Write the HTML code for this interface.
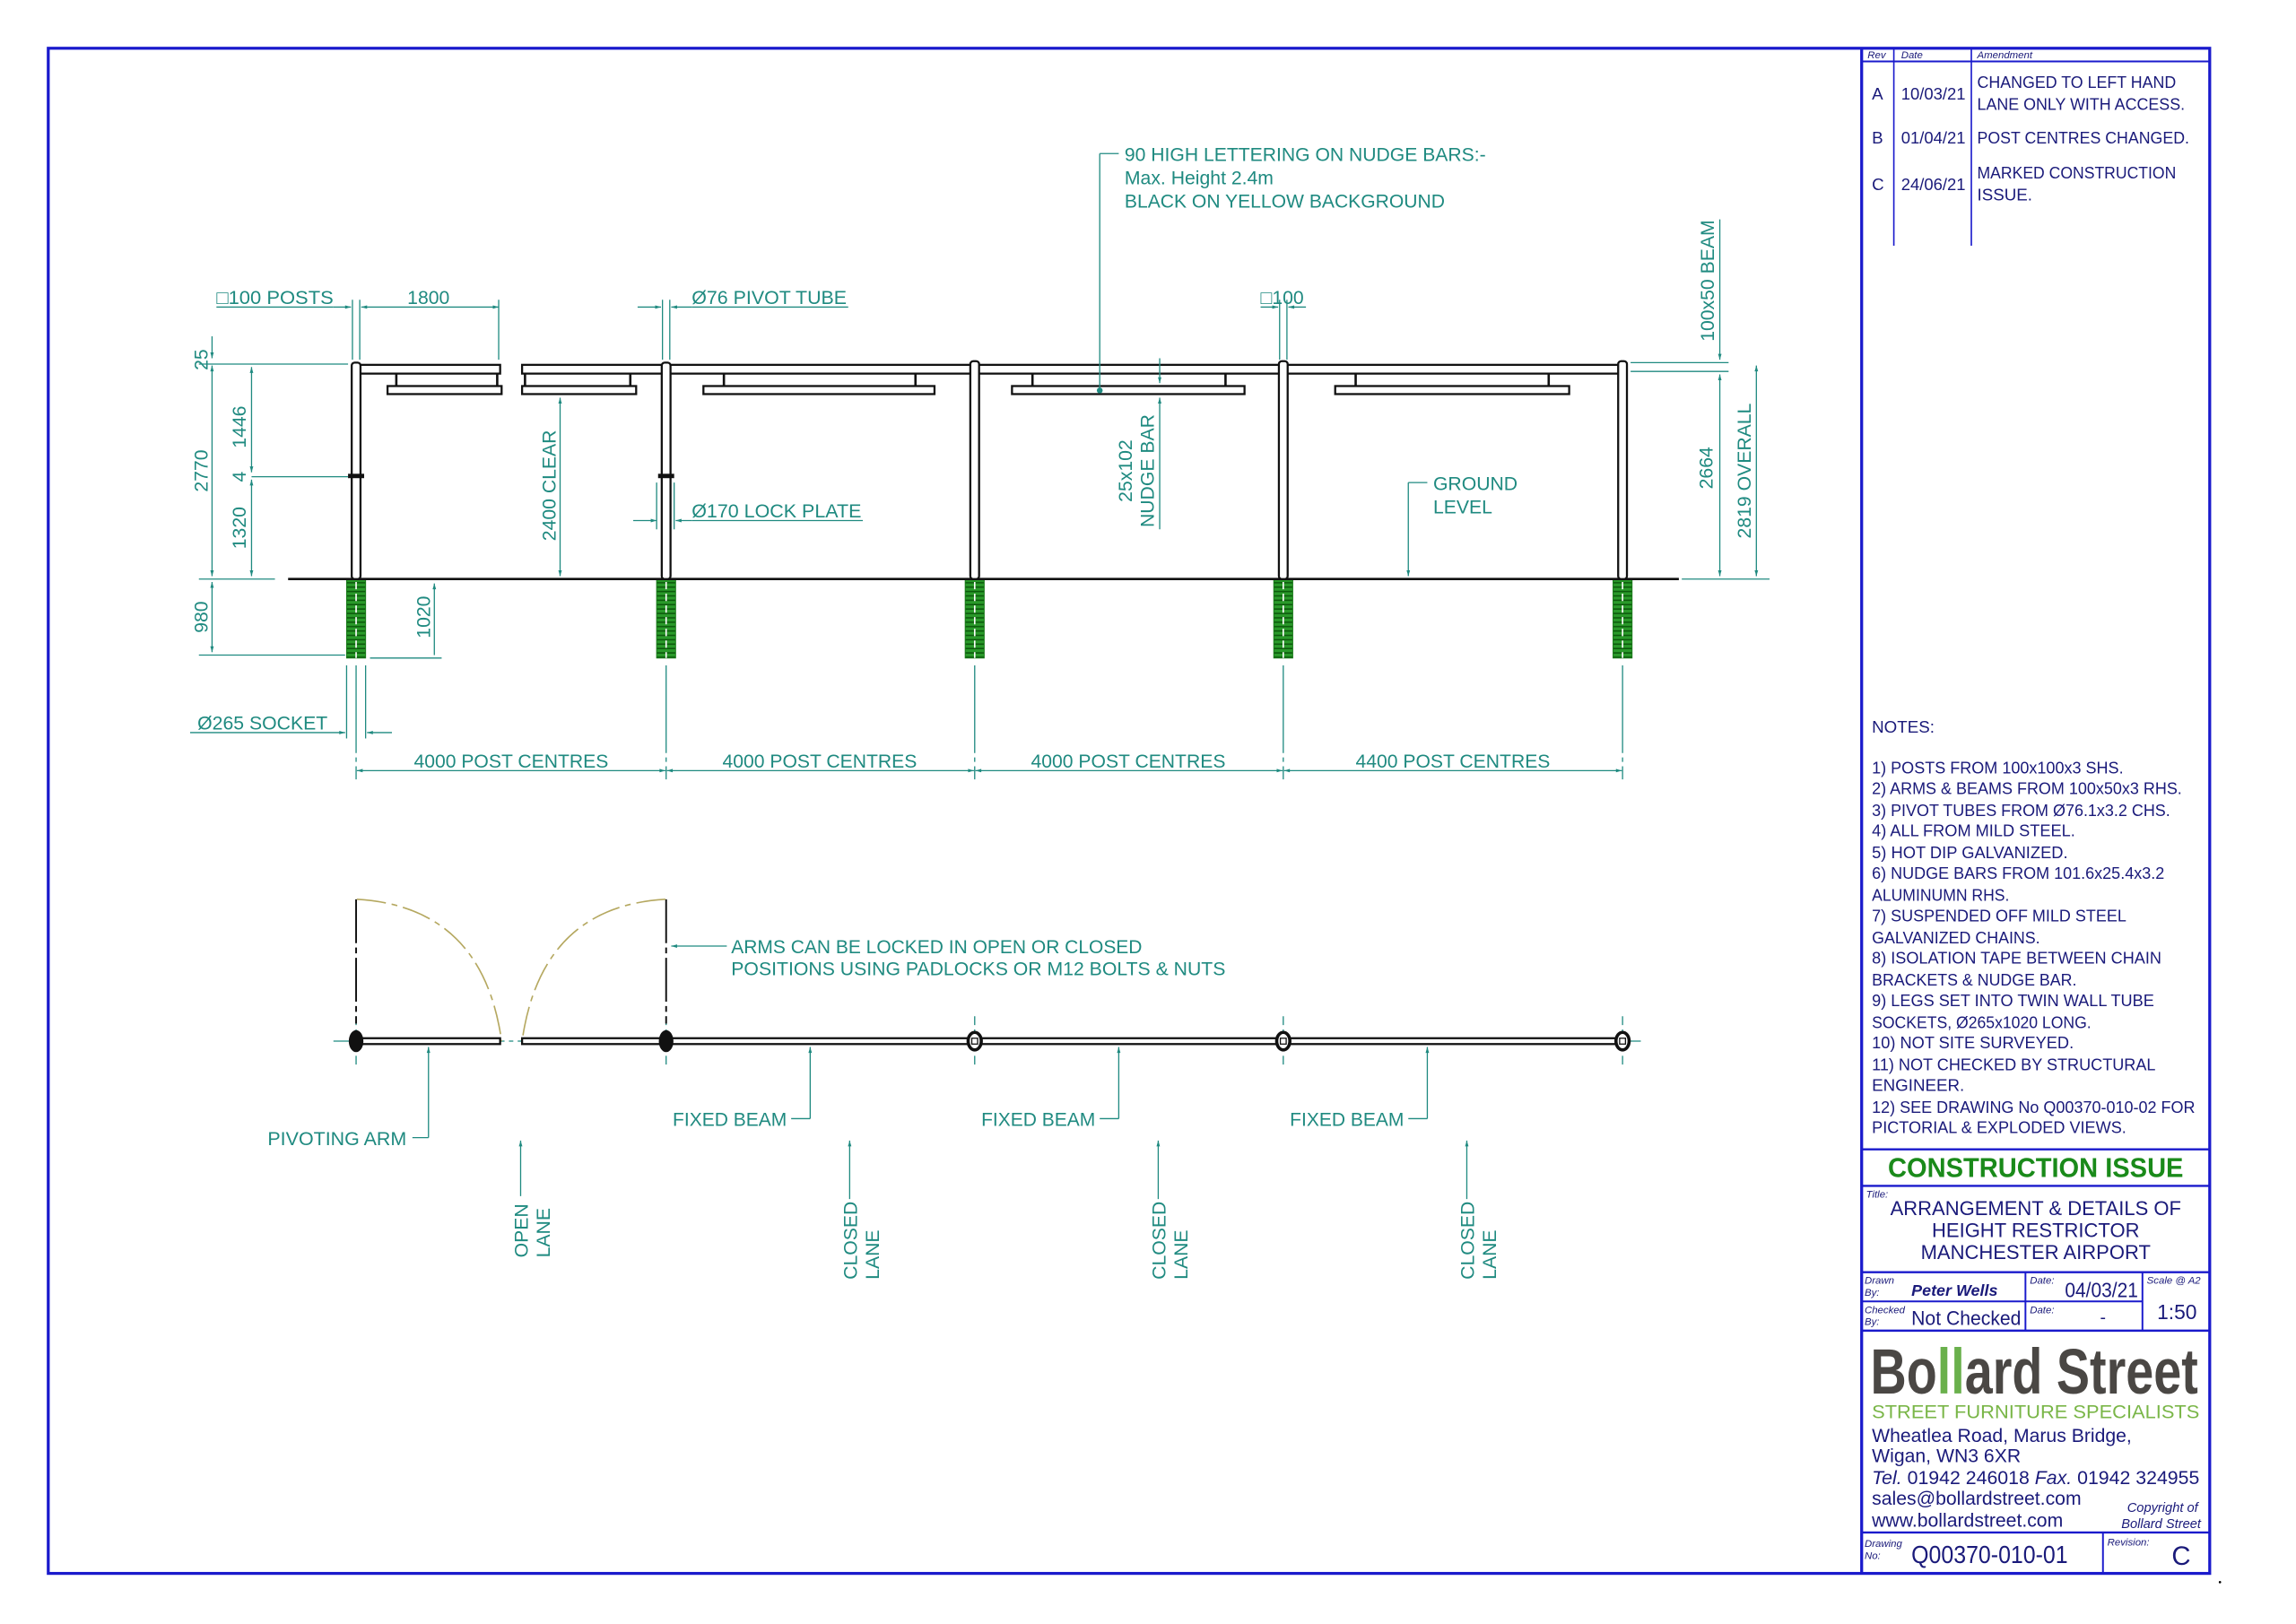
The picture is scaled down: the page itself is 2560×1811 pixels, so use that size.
<!DOCTYPE html>
<html><head><meta charset="utf-8"><style>
html,body{margin:0;padding:0;background:#fff}
svg{display:block}
.t{font-family:"Liberation Sans Narrow","Liberation Sans",sans-serif;fill:#1f8a80;font-size:13px}
.b{font-family:"Liberation Sans",sans-serif;fill:#1a1a7a}
.d{stroke:#1f8a80;stroke-width:0.8;fill:none}
.k{stroke:#111;stroke-width:1.4;fill:#fff}
.bl{stroke:#1a1acc;fill:none}
</style></head><body>
<svg width="2560" height="1811" viewBox="0 0 1570 1110.6" preserveAspectRatio="none" xmlns="http://www.w3.org/2000/svg">
<defs>
<marker id="a" viewBox="0 0 10 10" refX="10" refY="5" markerWidth="7" markerHeight="5" orient="auto-start-reverse"><path d="M0,2 L10,5 L0,8 z" fill="#1f8a80"/></marker>
<pattern id="g" width="4" height="3" patternUnits="userSpaceOnUse"><rect width="4" height="3" fill="#2a9a2a"/><rect y="2" width="4" height="1" fill="#0c5a0c"/></pattern>
</defs>
<rect x="0" y="0" width="1570" height="1111" fill="#fff"/>
<rect x="33" y="33" width="1478" height="1043" class="bl" stroke-width="2"/>
<line x1="1273" y1="33" x2="1273" y2="1076" class="bl" stroke-width="2"/>
<line x1="1273" y1="42" x2="1511" y2="42" class="bl" stroke-width="1.2"/>
<line x1="1295" y1="33" x2="1295" y2="168" class="bl" stroke-width="1"/>
<line x1="1348" y1="33" x2="1348" y2="168" class="bl" stroke-width="1"/>
<g class="b" font-size="7" font-style="italic"><text x="1277" y="40">Rev</text><text x="1300" y="40">Date</text><text x="1352" y="40">Amendment</text></g>
<g class="b" font-size="11.5"><text x="1280" y="68">A</text><text x="1300" y="68" textLength="44" lengthAdjust="spacingAndGlyphs">10/03/21</text><text x="1352" y="60" textLength="136" lengthAdjust="spacingAndGlyphs">CHANGED TO LEFT HAND</text><text x="1352" y="75" textLength="142" lengthAdjust="spacingAndGlyphs">LANE ONLY WITH ACCESS.</text>
<text x="1280" y="98">B</text><text x="1300" y="98" textLength="44" lengthAdjust="spacingAndGlyphs">01/04/21</text><text x="1352" y="98" textLength="145" lengthAdjust="spacingAndGlyphs">POST CENTRES CHANGED.</text>
<text x="1280" y="130">C</text><text x="1300" y="130" textLength="44" lengthAdjust="spacingAndGlyphs">24/06/21</text><text x="1352" y="122" textLength="136" lengthAdjust="spacingAndGlyphs">MARKED CONSTRUCTION</text><text x="1352" y="137">ISSUE.</text></g>
<g class="b" font-size="11.5"><text x="1280" y="501">NOTES:</text>
<text x="1280" y="529" textLength="172" lengthAdjust="spacingAndGlyphs">1)  POSTS FROM 100x100x3 SHS.</text>
<text x="1280" y="543" textLength="212" lengthAdjust="spacingAndGlyphs">2)  ARMS &amp; BEAMS FROM 100x50x3 RHS.</text>
<text x="1280" y="558" textLength="204" lengthAdjust="spacingAndGlyphs">3)  PIVOT TUBES FROM Ø76.1x3.2 CHS.</text>
<text x="1280" y="572" textLength="139" lengthAdjust="spacingAndGlyphs">4)  ALL FROM MILD STEEL.</text>
<text x="1280" y="587" textLength="134" lengthAdjust="spacingAndGlyphs">5)  HOT DIP GALVANIZED.</text>
<text x="1280" y="601" textLength="200" lengthAdjust="spacingAndGlyphs">6)  NUDGE BARS FROM 101.6x25.4x3.2</text>
<text x="1280" y="616" textLength="94" lengthAdjust="spacingAndGlyphs">ALUMINUMN RHS.</text>
<text x="1280" y="630" textLength="174" lengthAdjust="spacingAndGlyphs">7)  SUSPENDED OFF MILD STEEL</text>
<text x="1280" y="645" textLength="115" lengthAdjust="spacingAndGlyphs">GALVANIZED CHAINS.</text>
<text x="1280" y="659" textLength="198" lengthAdjust="spacingAndGlyphs">8)  ISOLATION TAPE BETWEEN CHAIN</text>
<text x="1280" y="674" textLength="140" lengthAdjust="spacingAndGlyphs">BRACKETS &amp; NUDGE BAR.</text>
<text x="1280" y="688" textLength="193" lengthAdjust="spacingAndGlyphs">9)  LEGS SET INTO TWIN WALL TUBE</text>
<text x="1280" y="703" textLength="150" lengthAdjust="spacingAndGlyphs">SOCKETS, Ø265x1020 LONG.</text>
<text x="1280" y="717" textLength="138" lengthAdjust="spacingAndGlyphs">10)  NOT SITE SURVEYED.</text>
<text x="1280" y="732" textLength="194" lengthAdjust="spacingAndGlyphs">11)  NOT CHECKED BY STRUCTURAL</text>
<text x="1280" y="746">ENGINEER.</text>
<text x="1280" y="761" textLength="221" lengthAdjust="spacingAndGlyphs">12)  SEE DRAWING No Q00370-010-02 FOR</text>
<text x="1280" y="775" textLength="174" lengthAdjust="spacingAndGlyphs">PICTORIAL  &amp; EXPLODED VIEWS.</text></g>
<line x1="1273" y1="786" x2="1511" y2="786" class="bl" stroke-width="1.5"/>
<text x="1392" y="805" text-anchor="middle" font-family="Liberation Sans,sans-serif" font-weight="bold" font-size="19" fill="#1a8a1a" textLength="202" lengthAdjust="spacingAndGlyphs">CONSTRUCTION ISSUE</text>
<line x1="1273" y1="811" x2="1511" y2="811" class="bl" stroke-width="1.5"/>
<text x="1276" y="819" class="b" font-size="7" font-style="italic">Title:</text>
<g class="b" font-size="13.5" text-anchor="middle"><text x="1392" y="831">ARRANGEMENT &amp; DETAILS OF</text><text x="1392" y="846">HEIGHT RESTRICTOR</text><text x="1392" y="861">MANCHESTER AIRPORT</text></g>
<line x1="1273" y1="870" x2="1511" y2="870" class="bl" stroke-width="1.5"/>
<line x1="1273" y1="890" x2="1465" y2="890" class="bl" stroke-width="1.2"/>
<line x1="1273" y1="910" x2="1511" y2="910" class="bl" stroke-width="1.5"/>
<line x1="1385" y1="870" x2="1385" y2="910" class="bl" stroke-width="1.2"/>
<line x1="1465" y1="870" x2="1465" y2="910" class="bl" stroke-width="1.2"/>
<g class="b" font-size="7" font-style="italic"><text x="1275" y="878">Drawn</text><text x="1275" y="886">By:</text><text x="1275" y="898">Checked</text><text x="1275" y="906">By:</text><text x="1388" y="878">Date:</text><text x="1388" y="898">Date:</text><text x="1468" y="878">Scale @ A2</text></g>
<text x="1307" y="886" class="b" font-size="11" font-style="italic" font-weight="bold" font-family="Liberation Mono,monospace">Peter Wells</text>
<text x="1307" y="906" class="b" font-size="13.5" textLength="75" lengthAdjust="spacingAndGlyphs">Not Checked</text>
<text x="1412" y="887" class="b" font-size="14" textLength="50" lengthAdjust="spacingAndGlyphs">04/03/21</text>
<text x="1436" y="905" class="b" font-size="12">-</text>
<text x="1475" y="902" class="b" font-size="14">1:50</text>
<g font-family="Liberation Sans Narrow,Liberation Sans,sans-serif" font-weight="bold" font-size="44" fill="#4a4744">
<text x="1279" y="953" textLength="224" lengthAdjust="spacingAndGlyphs">Bo<tspan fill="#6ab04c">ll</tspan>ard Street</text></g>
<text x="1280" y="970" font-family="Liberation Sans,sans-serif" font-size="13" fill="#7ab648" textLength="224" lengthAdjust="spacingAndGlyphs">STREET FURNITURE SPECIALISTS</text>
<g class="b" font-size="13"><text x="1280" y="986">Wheatlea Road, Marus Bridge,</text><text x="1280" y="1000">Wigan, WN3 6XR</text>
<text x="1280" y="1015" textLength="224" lengthAdjust="spacingAndGlyphs"><tspan font-style="italic">Tel.</tspan> 01942 246018 <tspan font-style="italic">Fax.</tspan> 01942 324955</text>
<text x="1280" y="1029">sales@bollardstreet.com</text><text x="1280" y="1044">www.bollardstreet.com</text></g>
<g class="b" font-size="9" font-style="italic" text-anchor="end"><text x="1503" y="1034">Copyright of</text><text x="1505" y="1045">Bollard Street</text></g>
<line x1="1273" y1="1048" x2="1511" y2="1048" class="bl" stroke-width="1.5"/>
<line x1="1438" y1="1048" x2="1438" y2="1076" class="bl" stroke-width="1.2"/>
<g class="b" font-size="7" font-style="italic"><text x="1275" y="1058">Drawing</text><text x="1275" y="1066">No:</text><text x="1441" y="1057">Revision:</text></g>
<text x="1307" y="1069" class="b" font-size="17" textLength="107" lengthAdjust="spacingAndGlyphs">Q00370-010-01</text>
<text x="1485" y="1070" class="b" font-size="18">C</text>
<circle cx="1518" cy="1082" r="0.8" fill="#000"/>

<g fill="url(#g)" stroke="#1a7a1a" stroke-width="0.6">
<rect x="237" y="396" width="13" height="54"/><rect x="449" y="396" width="13" height="54"/><rect x="660" y="396" width="13" height="54"/><rect x="871" y="396" width="13" height="54"/><rect x="1103" y="396" width="13" height="54"/></g>
<g stroke="#fff" stroke-width="1" stroke-dasharray="5,3"><line x1="243.5" y1="398" x2="243.5" y2="450"/><line x1="455.5" y1="398" x2="455.5" y2="450"/><line x1="666.5" y1="398" x2="666.5" y2="450"/><line x1="877.5" y1="398" x2="877.5" y2="450"/><line x1="1109.5" y1="398" x2="1109.5" y2="450"/></g>
<line x1="197" y1="396" x2="1148" y2="396" stroke="#111" stroke-width="1.6"/>
<g class="k">
<rect x="244" y="249.5" width="98" height="6"/>
<rect x="357" y="249.5" width="98" height="6"/>
<rect x="458" y="249.5" width="651" height="6"/>
<rect x="265" y="264" width="78" height="5.5"/><rect x="357" y="264" width="78" height="5.5"/><rect x="481" y="264" width="158" height="5.5"/><rect x="692" y="264" width="159" height="5.5"/><rect x="913" y="264" width="160" height="5.5"/>
</g>
<g stroke="#111" stroke-width="1.6">
<line x1="271" y1="256" x2="271" y2="264"/><line x1="340" y1="256" x2="340" y2="264"/><line x1="359" y1="256" x2="359" y2="264"/><line x1="431" y1="256" x2="431" y2="264"/>
<line x1="495" y1="256" x2="495" y2="264"/><line x1="626" y1="256" x2="626" y2="264"/><line x1="706" y1="256" x2="706" y2="264"/><line x1="838" y1="256" x2="838" y2="264"/><line x1="927" y1="256" x2="927" y2="264"/><line x1="1059" y1="256" x2="1059" y2="264"/></g>
<g class="k" stroke-width="1.3">
<rect x="240.5" y="248" width="6" height="148" rx="2"/><rect x="452.5" y="248" width="6" height="148" rx="2"/><rect x="663.5" y="247" width="6" height="149" rx="2"/><rect x="874.5" y="247" width="6" height="149" rx="2"/><rect x="1106.5" y="247" width="6" height="149" rx="2"/></g>
<g fill="#111"><rect x="238" y="324" width="11" height="3"/><rect x="450" y="324" width="11" height="3"/></g>
<circle cx="752" cy="267" r="2" fill="#1f8a80"/>

<g class="d">
<line x1="148" y1="210" x2="228" y2="210"/><line x1="228" y1="210" x2="240" y2="210" marker-end="url(#a)"/>
<line x1="247" y1="210" x2="341" y2="210" marker-start="url(#a)" marker-end="url(#a)"/>
<line x1="241" y1="205" x2="241" y2="246"/><line x1="246" y1="205" x2="246" y2="246"/><line x1="341" y1="205" x2="341" y2="246"/>
<line x1="436" y1="210" x2="452" y2="210" marker-end="url(#a)"/><line x1="473" y1="210" x2="459" y2="210" marker-end="url(#a)"/><line x1="473" y1="210" x2="580" y2="210"/>
<line x1="453" y1="205" x2="453" y2="246"/><line x1="458" y1="205" x2="458" y2="246"/>
<line x1="862" y1="210" x2="874" y2="210" marker-end="url(#a)"/><line x1="893" y1="210" x2="881" y2="210" marker-end="url(#a)"/>
<line x1="875" y1="205" x2="875" y2="246"/><line x1="880" y1="205" x2="880" y2="246"/>
<line x1="145" y1="230" x2="145" y2="245" marker-end="url(#a)"/>
<line x1="145" y1="250" x2="145" y2="394" marker-start="url(#a)" marker-end="url(#a)"/>
<line x1="145" y1="398" x2="145" y2="446" marker-start="url(#a)" marker-end="url(#a)"/>
<line x1="136" y1="249" x2="238" y2="249"/><line x1="136" y1="396" x2="188" y2="396"/><line x1="136" y1="448" x2="236" y2="448"/>
<line x1="172" y1="251" x2="172" y2="323" marker-start="url(#a)" marker-end="url(#a)"/>
<line x1="172" y1="328" x2="172" y2="394" marker-start="url(#a)" marker-end="url(#a)"/>
<line x1="172" y1="326" x2="238" y2="326"/>
<line x1="297" y1="448" x2="297" y2="399" marker-end="url(#a)"/><line x1="253" y1="450" x2="302" y2="450"/>
<line x1="383" y1="272" x2="383" y2="394" marker-start="url(#a)" marker-end="url(#a)"/>
<line x1="793" y1="362" x2="793" y2="272" marker-end="url(#a)"/><line x1="793" y1="245" x2="793" y2="262" marker-end="url(#a)"/>
<line x1="433" y1="356" x2="449" y2="356" marker-end="url(#a)"/><line x1="473" y1="356" x2="462" y2="356" marker-end="url(#a)"/><line x1="473" y1="356" x2="590" y2="356"/>
<line x1="449" y1="330" x2="449" y2="362"/><line x1="461" y1="330" x2="461" y2="362"/>
<line x1="752" y1="105" x2="765" y2="105"/><line x1="752" y1="105" x2="752" y2="266"/>
<line x1="963" y1="330" x2="976" y2="330"/><line x1="963" y1="330" x2="963" y2="394" marker-end="url(#a)"/>
<line x1="1115" y1="248" x2="1182" y2="248"/><line x1="1115" y1="254" x2="1182" y2="254"/><line x1="1150" y1="396" x2="1210" y2="396"/>
<line x1="1176" y1="150" x2="1176" y2="246" marker-end="url(#a)"/>
<line x1="1176" y1="256" x2="1176" y2="394" marker-start="url(#a)" marker-end="url(#a)"/>
<line x1="1201" y1="250" x2="1201" y2="394" marker-start="url(#a)" marker-end="url(#a)"/>
<line x1="130" y1="501" x2="236" y2="501" marker-end="url(#a)"/><line x1="268" y1="501" x2="251" y2="501" marker-end="url(#a)"/>
<line x1="237" y1="455" x2="237" y2="505"/><line x1="250" y1="455" x2="250" y2="505"/>
<g stroke-dasharray="60,3,3,3"><line x1="243.5" y1="455" x2="243.5" y2="533"/><line x1="455.5" y1="455" x2="455.5" y2="533"/><line x1="666.5" y1="455" x2="666.5" y2="533"/><line x1="877.5" y1="455" x2="877.5" y2="533"/><line x1="1109.5" y1="455" x2="1109.5" y2="533"/></g>
<line x1="244" y1="527" x2="455" y2="527" marker-start="url(#a)" marker-end="url(#a)"/>
<line x1="456" y1="527" x2="666" y2="527" marker-start="url(#a)" marker-end="url(#a)"/>
<line x1="667" y1="527" x2="877" y2="527" marker-start="url(#a)" marker-end="url(#a)"/>
<line x1="878" y1="527" x2="1109" y2="527" marker-start="url(#a)" marker-end="url(#a)"/>
</g>
<g class="t">
<text x="148" y="208" textLength="80" lengthAdjust="spacingAndGlyphs">□100 POSTS</text><text x="293" y="208" text-anchor="middle">1800</text>
<text x="473" y="208" textLength="106" lengthAdjust="spacingAndGlyphs">Ø76 PIVOT TUBE</text><text x="862" y="208">□100</text>
<text x="769" y="110" textLength="247" lengthAdjust="spacingAndGlyphs">90 HIGH LETTERING ON NUDGE BARS:-</text><text x="769" y="126">Max. Height 2.4m</text><text x="769" y="142" textLength="219" lengthAdjust="spacingAndGlyphs">BLACK ON YELLOW BACKGROUND</text>
<text x="473" y="354" textLength="116" lengthAdjust="spacingAndGlyphs">Ø170 LOCK PLATE</text>
<text x="980" y="335">GROUND</text><text x="980" y="351">LEVEL</text>
<text x="135" y="499" textLength="89" lengthAdjust="spacingAndGlyphs">Ø265 SOCKET</text>
<text x="283" y="525" textLength="133" lengthAdjust="spacingAndGlyphs">4000 POST CENTRES</text><text x="494" y="525" textLength="133" lengthAdjust="spacingAndGlyphs">4000 POST CENTRES</text><text x="705" y="525" textLength="133" lengthAdjust="spacingAndGlyphs">4000 POST CENTRES</text><text x="927" y="525" textLength="133" lengthAdjust="spacingAndGlyphs">4400 POST CENTRES</text>
<g font-family="Liberation Sans,sans-serif" font-size="13">
<text transform="translate(142,246) rotate(-90)" text-anchor="middle">25</text>
<text transform="translate(142,322) rotate(-90)" text-anchor="middle">2770</text>
<text transform="translate(142,422) rotate(-90)" text-anchor="middle">980</text>
<text transform="translate(168,292) rotate(-90)" text-anchor="middle">1446</text>
<text transform="translate(168,326) rotate(-90)" text-anchor="middle">4</text>
<text transform="translate(168,361) rotate(-90)" text-anchor="middle">1320</text>
<text transform="translate(294,422) rotate(-90)" text-anchor="middle">1020</text>
<text transform="translate(380,332) rotate(-90)" text-anchor="middle">2400 CLEAR</text>
<text transform="translate(774,322) rotate(-90)" text-anchor="middle">25x102</text>
<text transform="translate(789,322) rotate(-90)" text-anchor="middle">NUDGE BAR</text>
<text transform="translate(1172,192) rotate(-90)" text-anchor="middle">100x50 BEAM</text>
<text transform="translate(1171,320) rotate(-90)" text-anchor="middle">2664</text>
<text transform="translate(1197,322) rotate(-90)" text-anchor="middle">2819 OVERALL</text>
</g></g>

<g class="d"><line x1="228" y1="712" x2="1125" y2="712" stroke-dasharray="12,3,3,3"/>
<g stroke-dasharray="6,3"><line x1="243.5" y1="695" x2="243.5" y2="728"/><line x1="455.5" y1="695" x2="455.5" y2="728"/><line x1="666.5" y1="695" x2="666.5" y2="728"/><line x1="877.5" y1="695" x2="877.5" y2="728"/><line x1="1109.5" y1="695" x2="1109.5" y2="728"/></g></g>
<g stroke="#111" stroke-width="1.2" stroke-dasharray="30,3,4,3"><line x1="243.5" y1="615" x2="243.5" y2="700"/><line x1="455.5" y1="615" x2="455.5" y2="700"/></g>
<g stroke="#b5a860" stroke-width="1" fill="none" stroke-dasharray="20,4,4,4"><path d="M244,615 Q330,620 343,712"/><path d="M455,615 Q370,620 357,712"/></g>
<g class="k" stroke-width="1.3"><rect x="244" y="710" width="98" height="4"/><rect x="357" y="710" width="752" height="4"/></g>
<g fill="#111"><ellipse cx="243.5" cy="712" rx="5" ry="7.5"/><ellipse cx="455.5" cy="712" rx="5" ry="7.5"/></g>
<g fill="#fff" stroke="#111" stroke-width="2.2"><ellipse cx="666.5" cy="712" rx="4.5" ry="6"/><ellipse cx="877.5" cy="712" rx="4.5" ry="6"/><ellipse cx="1109.5" cy="712" rx="4.5" ry="6"/></g>
<g fill="none" stroke="#111" stroke-width="0.8"><rect x="664.5" y="710" width="4" height="4"/><rect x="875.5" y="710" width="4" height="4"/><rect x="1107.5" y="710" width="4" height="4"/></g>
<g class="d">
<line x1="497" y1="647" x2="459" y2="647" marker-end="url(#a)"/>
<line x1="282" y1="778" x2="293" y2="778"/><line x1="293" y1="778" x2="293" y2="716" marker-end="url(#a)"/>
<line x1="541" y1="765" x2="554" y2="765"/><line x1="554" y1="765" x2="554" y2="716" marker-end="url(#a)"/>
<line x1="752" y1="765" x2="765" y2="765"/><line x1="765" y1="765" x2="765" y2="716" marker-end="url(#a)"/>
<line x1="963" y1="765" x2="976" y2="765"/><line x1="976" y1="765" x2="976" y2="716" marker-end="url(#a)"/>
<line x1="356" y1="818" x2="356" y2="780" marker-end="url(#a)"/>
<line x1="581" y1="820" x2="581" y2="780" marker-end="url(#a)"/>
<line x1="792" y1="820" x2="792" y2="780" marker-end="url(#a)"/>
<line x1="1003" y1="820" x2="1003" y2="780" marker-end="url(#a)"/>
</g>
<g class="t">
<text x="500" y="652" textLength="281" lengthAdjust="spacingAndGlyphs">ARMS CAN BE LOCKED IN OPEN OR CLOSED</text><text x="500" y="667" textLength="338" lengthAdjust="spacingAndGlyphs">POSITIONS USING PADLOCKS OR M12 BOLTS &amp; NUTS</text>
<text x="183" y="783" textLength="95" lengthAdjust="spacingAndGlyphs">PIVOTING ARM</text><text x="460" y="770" textLength="78" lengthAdjust="spacingAndGlyphs">FIXED BEAM</text><text x="671" y="770" textLength="78" lengthAdjust="spacingAndGlyphs">FIXED BEAM</text><text x="882" y="770" textLength="78" lengthAdjust="spacingAndGlyphs">FIXED BEAM</text>
<g font-family="Liberation Sans,sans-serif" font-size="13">
<text transform="translate(361,860) rotate(-90)">OPEN</text><text transform="translate(376,860) rotate(-90)">LANE</text>
<text transform="translate(586,875) rotate(-90)">CLOSED</text><text transform="translate(601,875) rotate(-90)">LANE</text>
<text transform="translate(797,875) rotate(-90)">CLOSED</text><text transform="translate(812,875) rotate(-90)">LANE</text>
<text transform="translate(1008,875) rotate(-90)">CLOSED</text><text transform="translate(1023,875) rotate(-90)">LANE</text>
</g></g>
</svg>
</body></html>
